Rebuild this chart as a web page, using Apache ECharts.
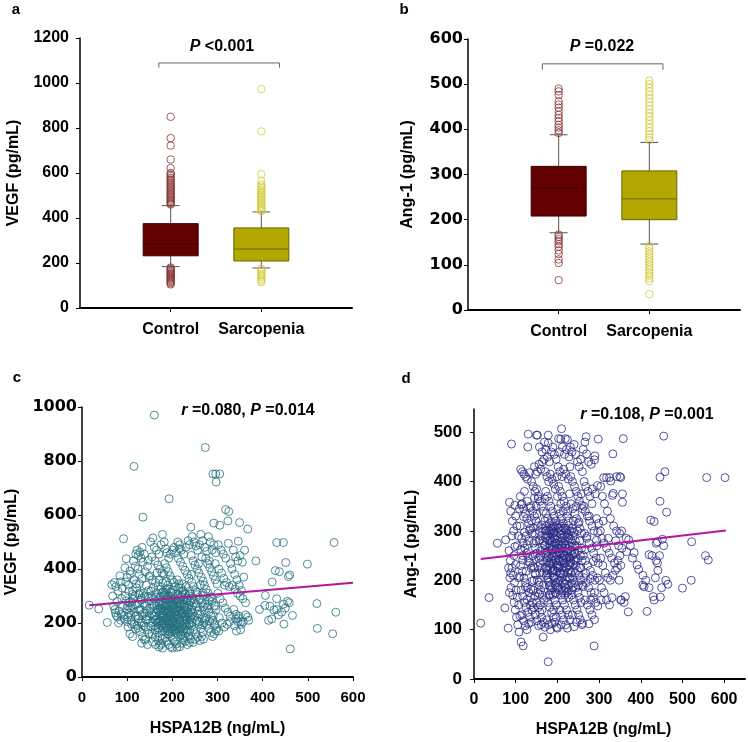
<!DOCTYPE html>
<html>
<head>
    <meta charset="utf-8"/>
    <title>VEGF / Ang-1 - Control vs Sarcopenia, HSPA12B</title>
    <script src="https://cdn.jsdelivr.net/npm/echarts@6/dist/echarts.min.js"></script>
    <style>
        html, body { margin: 0; padding: 0; background: #fff; }
        #main { width: 748px; height: 742px; }
    </style>
</head>
<body>
<div id="main"></div>
<script>
    // ---------- data ----------
    var groupNames = ['Control', 'Sarcopenia'];

    // boxplot: [group position, lower whisker, Q1, median, Q3, upper whisker]
    var vegfBox = [[1, 184, 232, 284, 375, 455], [2, 178, 209, 262, 356, 427]];
    var angBox = [[1, 171, 208, 270, 318, 388], [2, 146, 200, 246, 308, 371]];

    // outliers (pg/mL)
    var vegfOutControl = [850, 755, 722, 660, 622, 600, 594, 586, 578, 571, 565, 558, 551, 545, 538, 532, 526, 519,
        512, 506, 500, 494, 488, 482, 476, 470, 465, 460,
        180, 175, 170, 165, 160, 155, 150, 145, 140, 135, 130, 125, 120, 115, 110, 105];
    var vegfOutSarc = [973, 785, 595, 565, 548, 540, 532, 525, 518, 511, 504, 497, 490, 483, 476, 469, 462, 455,
        448, 441, 434, 430, 175, 168, 160, 152, 145, 138, 130, 122, 115];
    var angOutControl = [490, 484, 476, 462, 455, 448, 440, 432, 425, 418, 410, 404, 398, 392,
        167, 162, 157, 152, 146, 140, 132, 124, 112, 104, 66];
    var angOutSarc = [508, 500, 492, 484, 476, 468, 460, 452, 444, 436, 428, 420, 412, 404, 396, 388, 382, 376,
        142, 136, 130, 124, 118, 112, 106, 100, 94, 88, 82, 76, 70, 64, 35];

    // HSPA12B (ng/mL) vs VEGF (pg/mL)
    var hspaVegf = [
        [16,266],[37,252],[56,202],
        [72,350],[75,335],[68,300],[80,318],[85,352],[78,280],[70,262],[82,245],[76,228],[79,222],[74,238],[88,290],
        [86,210],[90,265],[84,375],[73,250],[89,330],[81,200],[87,232],[66,342],
        [92,512],[95,405],[98,438],[100,370],[103,340],[96,300],[105,275],[99,250],[108,230],[94,215],[110,195],
        [102,185],[112,320],[115,360],[106,392],[118,410],[113,288],[101,262],[116,240],[109,210],[119,178],[97,352],
        [104,318],[111,262],[117,300],[120,345],[107,380],[114,430],[93,228],[100,205],[118,225],[106,160],[112,150],
        [115,780],[119,455],
        [122,470],[125,450],[128,462],[131,440],[135,425],[138,455],[124,400],[127,380],[133,365],[140,390],[145,410],
        [148,372],[121,330],[126,305],[130,285],[136,310],[142,340],[147,320],[123,270],[129,250],[134,232],[139,265],
        [144,245],[149,280],[125,215],[131,200],[137,190],[143,210],[146,175],[128,168],[134,150],[141,140],[148,160],
        [132,125],[138,138],[145,120],[135,592],[127,345],[139,300],[143,225],[122,190],[150,255],[147,432],[133,480],
        [141,185],
        [152,500],[157,515],[160,480],[165,470],[170,455],[175,490],[178,528],[155,445],[162,430],[168,415],[173,400],
        [177,385],[151,375],[156,360],[163,350],[169,338],[174,325],[179,312],[153,300],[158,290],[164,280],[171,268],
        [176,255],[180,245],[154,235],[159,225],[166,215],[172,205],[177,195],[152,188],[161,175],[167,165],[173,150],
        [178,140],[156,130],[163,120],[170,112],[176,125],[158,330],[165,310],[172,295],[160,265],[168,250],[175,235],
        [157,205],[163,190],[170,182],[178,170],[155,160],[162,148],[169,135],[174,118],[160,970],[166,385],[171,360],
        [179,348],[153,318],[158,270],[164,240],[176,280],[180,220],[162,210],[168,198],[175,208],[178,107],
        [182,500],[185,475],[188,460],[192,440],[196,455],[200,470],[204,480],[208,460],[183,420],[187,405],[191,390],
        [195,375],[199,360],[203,350],[207,335],[181,380],[186,355],[190,340],[194,325],[198,312],[202,300],[206,290],
        [210,278],[184,305],[188,290],[193,275],[197,262],[201,250],[205,240],[209,230],[183,265],[187,252],[191,240],
        [196,228],[200,218],[204,208],[208,198],[182,230],[186,215],[190,205],[194,195],[198,185],[203,175],[207,165],
        [185,182],[189,170],[193,160],[197,150],[201,140],[205,130],[209,122],[184,145],[188,132],[192,120],[196,112],
        [200,108],[193,660],[186,322],[190,300],[195,285],[199,270],[204,258],[208,245],[183,245],[188,235],[192,225],
        [197,210],[201,200],[206,188],[209,178],[181,200],[186,190],[191,178],[195,168],[210,110],
        [212,500],[216,490],[220,470],[225,455],[230,480],[235,505],[238,490],[213,440],[218,425],[223,410],[228,395],
        [233,380],[237,365],[211,360],[215,345],[219,330],[224,318],[229,305],[234,292],[239,280],[212,300],[217,285],
        [221,270],[226,258],[231,245],[236,232],[240,220],[214,260],[218,248],[223,235],[227,222],[232,210],[237,198],
        [213,215],[217,202],[222,190],[226,178],[231,165],[236,152],[240,140],[215,170],[219,158],[224,145],[228,132],
        [233,120],[238,128],[216,112],[220,125],[225,138],[229,152],[214,330],[222,345],[230,335],[238,318],[216,232],
        [224,210],[232,188],[239,172],[211,185],[218,178],[227,268],[235,255],[213,278],[221,298],[216,475],
        [241,555],[244,520],[248,500],[252,485],[256,470],[260,490],[263,528],[267,505],[242,450],[246,430],[250,415],
        [255,400],[259,385],[264,370],[268,355],[243,350],[247,335],[251,320],[256,305],[260,290],[265,275],[269,260],
        [244,290],[248,275],[253,260],[257,245],[262,230],[266,215],[270,200],[245,240],[249,225],[254,210],[258,195],
        [263,180],[267,165],[243,190],[247,175],[252,160],[256,148],[261,135],[265,150],[269,140],[246,128],[250,140],
        [255,315],[262,340],[268,310],[242,380],[258,420],[265,445],
        [273,850],[272,480],[276,465],[280,520],[284,500],[288,470],[292,490],[296,460],[274,440],[278,420],[283,405],
        [287,390],[291,375],[295,360],[299,345],[271,340],[275,325],[279,310],[284,295],[288,280],[293,265],[297,250],
        [273,270],[277,255],[281,240],[286,225],[290,210],[294,195],[298,180],[272,210],[276,195],[281,180],[285,165],
        [289,150],[293,160],[297,172],[292,570],[290,752],[296,752],[297,722],[282,430],[295,420],
        [305,752],[305,562],[318,620],[325,613],[323,578],[302,490],[308,470],[313,455],[318,440],[324,495],[329,420],
        [303,400],[309,385],[314,365],[320,350],[326,335],[301,310],[306,290],[312,275],[317,255],[323,240],[328,225],
        [304,220],[310,200],[315,185],[321,195],[327,205],[303,170],[316,340],
        [349,572],[367,548],[346,503],[335,470],[340,445],[345,430],[350,450],[355,425],[360,470],[332,400],[338,380],
        [343,360],[348,340],[353,320],[358,370],[333,340],[339,325],[344,310],[350,300],[356,290],[362,275],[336,250],
        [341,232],[346,218],[351,205],[357,205],[351,175],[342,170],[367,222],[369,210],[340,215],[345,205],[348,225],
        [353,195],[338,190],[362,230],
        [385,430],[393,250],[406,302],[413,210],[416,262],[421,352],[428,394],[437,390],[431,498],[446,498],[431,290],
        [431,250],[442,240],[446,270],[451,424],[455,280],[459,275],[457,372],[460,378],[447,196],[461,104],[466,228],
        [499,418],[520,272],[521,180],[555,160],[558,498],[562,240],[420,215],[435,230],[450,255],[425,248],[405,265]
    ];
    // dense centre of the VEGF cloud
    var hspaVegfCore = [
        [187,268],[203,231],[219,297],[176,189],[231,214],[194,246],[208,283],[162,227],[245,262],[183,312],[215,176],
        [199,204],[227,249],[171,276],[238,193],[191,158],[222,316],[206,172],[180,236],[213,259],[196,293],[233,281],
        [168,204],[242,227],[188,181],[201,322],[225,167],[174,252],[217,212],[185,287],[209,243],[229,198],[193,219],
        [166,263],[236,301],[204,264],[179,208],[221,232],[197,179],[243,248],[184,263],[211,197],[228,309],[172,228],
        [198,251],[234,174],[189,326],[216,269],[205,186],[181,301],[224,285],[192,237],[239,211],[169,181],[214,244],
        [200,289],[187,221],[226,259],[178,266],[207,216],[235,237],[194,201],[220,183],[185,247],[212,308],[164,296],
        [241,281],[199,169],[230,222],[177,313],[203,206],[218,273],[190,284],[232,259],[173,243],[209,162],[195,231],
        [226,204],[182,196],[214,291],[244,203],[167,248],[201,272],[237,266],[186,217],[223,240],[208,226],[175,297],
        [197,314],[219,155],[231,290],[188,205],[212,231],[163,212],[240,307],[180,181],[205,250],[227,226],[192,266],
        [216,195],
        [118,268],[132,292],[104,237],[141,214],[126,248],[112,306],[137,273],[98,282],[146,297],[121,228],[108,255],
        [134,201],[143,263],[115,195],[128,311],[101,222],[139,236],[124,181],[149,226],[110,277],
        [256,233],[271,248],[283,207],[262,286],[278,263],[291,228],[266,193],[287,297],[253,272],[274,218],[296,262],
        [259,205],[281,284],[268,302],[293,190]
    ];

    // HSPA12B (ng/mL) vs Ang-1 (pg/mL)
    var hspaAng = [
        [90,476],[82,103],[74,144],[76,282],[56,275],[36,165],[16,113],
        [85,358],[88,340],[92,320],[95,300],[98,352],[100,330],[103,310],[106,290],[84,260],[87,240],[91,225],[94,210],
        [97,195],[101,180],[104,165],[107,150],[83,225],[86,205],[89,185],[93,170],[96,155],[99,140],[102,125],[105,110],
        [108,95],[110,128],[109,345],[104,270],[96,250],[91,290],[88,215],[100,232],[107,205],[85,175],[98,268],
        [113,75],[118,67],[129,470],[130,496],[112,425],[116,420],[120,415],[124,410],[128,405],[133,418],[138,400],
        [111,370],[115,355],[119,345],[123,335],[127,325],[131,315],[135,305],[139,295],[114,285],[118,275],[122,265],
        [126,255],[130,245],[134,235],[137,225],[112,230],[116,218],[120,205],[124,195],[128,185],[132,175],[136,165],
        [140,155],[113,180],[117,168],[121,155],[125,145],[129,135],[133,125],[137,115],[115,130],[119,118],[123,108],
        [127,100],[131,112],[135,150],[139,140],[111,310],[125,290],[132,280],[121,380],[128,360],[136,350],[117,250],
        [150,494],[152,494],[145,430],[148,415],[152,420],[156,435],[160,425],[164,440],[168,445],[142,390],[146,380],
        [150,385],[154,370],[158,360],[162,350],[166,340],[170,365],[141,340],[145,330],[149,320],[153,310],[157,300],
        [161,290],[165,280],[169,270],[143,275],[147,265],[151,255],[155,245],[159,235],[163,225],[167,215],[144,225],
        [148,212],[152,200],[156,190],[160,180],[164,170],[168,160],[142,180],[146,168],[150,155],[154,145],[158,135],
        [162,125],[166,115],[170,105],[147,130],[151,118],[155,108],[159,150],[163,140],[143,145],[166,85],[161,110],
        [157,470],[163,460],[169,480],[149,350],[156,280],[164,305],[167,190],[153,175],[146,295],[141,250],[158,215],
        [165,240],[160,260],[170,320],[144,200],
        [178,35],[178,494],[178,478],[172,465],[176,450],[181,440],[185,460],[189,470],[193,455],[197,445],[171,420],
        [175,410],[179,400],[183,415],[187,405],[191,395],[195,385],[199,410],[172,380],[176,370],[180,360],[184,350],
        [188,340],[192,330],[196,320],[200,370],[173,335],[177,325],[181,315],[185,305],[189,295],[193,285],[197,275],
        [171,300],[175,290],[179,280],[183,270],[187,260],[191,250],[195,240],[199,230],[172,255],[176,245],[180,235],
        [184,225],[188,215],[192,205],[196,195],[200,185],[173,210],[177,200],[181,190],[185,180],[189,170],[193,160],
        [197,150],[174,165],[178,155],[182,145],[186,135],[190,125],[194,115],[198,105],[175,120],[179,110],[183,100],
        [187,112],[191,140],[195,175],[199,265],[182,300],[190,310],[198,290],[186,240],[194,220],[176,220],[180,170],
        [188,185],[196,255],[174,310],[184,285],[192,270],[200,103],[197,125],
        [210,507],[203,487],[208,486],[219,487],[224,485],[205,460],[212,470],[217,455],[222,465],[228,450],[202,430],
        [206,420],[211,410],[215,425],[220,415],[226,405],[230,430],[203,390],[207,380],[212,370],[216,360],[221,350],
        [225,340],[229,375],[201,345],[205,335],[210,325],[214,315],[219,305],[223,295],[228,285],[202,305],[206,295],
        [211,285],[215,275],[220,265],[224,255],[229,245],[203,265],[207,255],[212,245],[216,235],[221,225],[225,215],
        [230,205],[201,225],[205,215],[210,205],[214,195],[219,185],[223,175],[227,165],[204,180],[208,170],[213,160],
        [217,150],[222,140],[226,130],[230,120],[206,140],[211,130],[215,120],[220,110],[224,103],[209,110],[218,170],
        [227,190],[204,240],[213,225],[222,245],[228,270],[209,300],[217,290],[226,320],[205,315],[214,340],[223,330],
        [208,355],[202,200],[211,270],[219,280],[226,230],[229,300],[215,250],[220,200],
        [231,470],[235,460],[240,475],[244,455],[248,440],[252,430],[256,445],[260,420],[232,410],[236,400],[241,390],
        [245,380],[249,370],[253,360],[257,375],[233,355],[237,345],[242,335],[246,325],[250,315],[254,305],[258,295],
        [234,300],[238,290],[243,280],[247,270],[251,260],[255,250],[259,240],[231,260],[236,250],[240,240],[244,230],
        [248,220],[252,210],[256,200],[260,190],[233,215],[237,205],[241,195],[245,185],[249,175],[253,165],[257,155],
        [234,170],[239,160],[243,150],[247,140],[251,130],[255,120],[259,110],[240,106],[236,130],[246,115],[250,190],
        [258,265],[242,255],[238,320],[254,280],[245,350],[235,180],[253,225],[232,235],[248,300],[260,345],
        [269,491],[298,486],[270,456],[290,452],[289,444],[262,465],[266,480],[275,440],[281,435],[264,400],[268,390],
        [273,380],[278,370],[284,385],[291,375],[296,392],[263,350],[267,340],[272,330],[277,320],[283,310],[288,300],
        [294,325],[299,315],[265,295],[270,285],[276,275],[282,265],[287,255],[293,245],[298,235],[262,250],[267,240],
        [273,230],[279,220],[285,210],[290,200],[296,205],[264,205],[269,195],[275,185],[281,175],[286,165],[292,155],
        [297,148],[266,160],[272,150],[278,140],[283,130],[289,120],[276,112],[260,113],[288,67],[280,160],[295,270],
        [333,456],[358,487],[334,376],[332,372],[342,410],[350,410],[352,408],[325,408],[311,408],[318,408],[328,401],
        [356,358],[356,375],[304,390],[308,370],[313,355],[320,340],[327,325],[335,310],[342,300],[349,295],[354,300],
        [303,300],[307,285],[312,275],[318,265],[324,255],[330,245],[337,235],[344,225],[350,250],[355,265],[304,245],
        [309,230],[315,215],[321,205],[327,200],[333,210],[339,220],[345,240],[352,230],[301,200],[306,185],[312,175],
        [318,160],[325,150],[331,165],[348,200],[353,160],[360,155],[340,280],[322,285],[310,320],[347,270],[305,160],
        [363,167],[352,160],[370,136],[365,285],[371,282],[384,256],[391,231],[395,222],[405,210],[408,187],[405,190],
        [415,137],[420,252],[427,250],[424,322],[432,319],[430,167],[432,160],[437,240],[440,235],[441,220],[437,275],
        [440,278],[447,166],[446,360],[446,409],[450,185],[452,283],[455,492],[458,420],[460,200],[462,338],[465,192],
        [500,184],[521,200],[522,278],[555,250],[562,241],[558,408],[602,408],[366,258],[375,270],[412,200],[420,185],
        [435,205],[445,250],[455,270],[380,245]
    ];
    // dense centre of the Ang-1 cloud
    var hspaAngCore = [
        [186,262],[201,231],[214,288],[177,205],[229,247],[193,296],[208,214],[170,271],[222,183],[185,319],[197,242],
        [236,268],[181,188],[215,305],[203,257],[190,222],[227,293],[174,239],[211,178],[243,215],[195,276],[218,236],
        [183,294],[206,199],[232,283],[172,226],[199,311],[224,207],[188,249],[212,266],[179,302],[238,232],[202,186],
        [220,259],[191,207],[175,258],[209,292],[228,221],[184,233],[240,297],[196,173],[216,249],[171,286],[205,227],
        [234,194],[187,278],[222,302],[199,218],[213,241],[180,196],[226,264],[193,309],[207,271],[241,253],[176,214],
        [218,192],[189,287],[231,238],[200,250],[173,301],[214,214],[235,276],[183,171],[205,306],[221,226],[196,262],
        [178,248],[229,203],[191,234],[210,279],[244,241],[186,305],[219,271],[201,196],[174,223],[233,258],[194,285],
        [215,180],[227,311],[182,280],[207,238],[198,204],[238,186],[171,262],[224,289],[189,219],[212,254],[236,305],
        [177,290],[203,273],[230,231],[185,244],[217,218],[195,190],[242,270],[208,309],[180,267],[221,245],[192,298],
        [226,178],
        [128,272],[142,306],[117,241],[153,228],[134,347],[121,297],[147,253],[139,198],[158,282],[125,218],[112,262],
        [151,334],[136,182],[162,312],[119,329],[145,367],[131,238],[156,196],[114,353],[149,279],[127,161],[160,248],
        [138,321],[123,187],[154,365],[110,208],[141,229],[157,172],[133,301],[146,214],
        [252,318],[266,262],[279,203],[258,352],[271,289],[286,238],[262,187],[294,281],[249,244],[276,330],[289,175],
        [256,225],[283,355],[268,214],[297,297]
    ];

    // linear fits
    var fitVegf = [[16, 266], [600, 349]];
    var fitAng = [[16, 243], [604, 301]];

    // significance brackets [group position, value]
    var bracketVegf = [[0.87, 1068], [0.87, 1089], [2.2, 1089], [2.2, 1068]];
    var bracketAng = [[0.82, 532], [0.82, 545], [2.15, 545], [2.15, 532]];

    var panelLetters = ['a', 'b', 'c', 'd'];
    var statTexts = ['{i|P} <0.001', '{i|P} =0.022', '{i|r} =0.080, {i|P} =0.014', '{i|r} =0.108, {i|P} =0.001'];

    // ---------- styles ----------
    var FONT = '"Liberation Sans", Arial, sans-serif';
    var WIDE = '"DejaVu Sans", sans-serif';
    var boxFill = ['#650000', '#b3a800'];
    var boxEdge = ['#3a0000', '#6a6400'];
    var outColor = ['#8a3434', '#d2ca3c'];

    var chart = echarts.init(document.getElementById('main'));

    function renderBox(params, api) {
        var x = api.value(0);
        var lo = api.coord([x, api.value(1)]);
        var q1 = api.coord([x, api.value(2)]);
        var md = api.coord([x, api.value(3)]);
        var q3 = api.coord([x, api.value(4)]);
        var hi = api.coord([x, api.value(5)]);
        var half = 27.5, cap = 9;
        var i = params.dataIndex;
        var whisker = {stroke: '#555', lineWidth: 1};
        return {
            type: 'group',
            children: [
                {type: 'line', shape: {x1: lo[0], y1: lo[1], x2: hi[0], y2: hi[1]}, style: whisker},
                {type: 'line', shape: {x1: lo[0] - cap, y1: lo[1], x2: lo[0] + cap, y2: lo[1]}, style: whisker},
                {type: 'line', shape: {x1: hi[0] - cap, y1: hi[1], x2: hi[0] + cap, y2: hi[1]}, style: whisker},
                {type: 'rect', shape: {x: q3[0] - half, y: q3[1], width: half * 2, height: q1[1] - q3[1]},
                    style: {fill: boxFill[i], stroke: boxEdge[i], lineWidth: 1}},
                {type: 'line', shape: {x1: md[0] - half, y1: md[1], x2: md[0] + half, y2: md[1]},
                    style: {stroke: boxEdge[i], lineWidth: 1}}
            ]
        };
    }

    var plainNumber = function (v) { return String(v); };

    function valueAxis(grid, max, interval, opt) {
        var ax = {
            type: 'value', gridIndex: grid, min: 0, max: max, interval: interval,
            splitLine: {show: false},
            axisLine: {show: true, onZero: false, lineStyle: {color: '#000', width: opt.lineWidth || 2}},
            axisTick: {show: true, length: 4, lineStyle: {color: '#000', width: 1}},
            axisLabel: {color: '#000', fontWeight: 'bold', fontSize: opt.fontSize || 16,
                fontFamily: opt.font || FONT, margin: opt.margin, formatter: opt.formatter || plainNumber},
            name: opt.name || '', nameLocation: 'middle', nameGap: opt.nameGap,
            nameTextStyle: {color: '#000', fontWeight: 'bold', fontSize: 16, fontFamily: FONT,
                padding: opt.namePadding || 0}
        };
        if (opt.custom) {
            ax.axisTick.customValues = opt.custom;
            ax.axisLabel.customValues = opt.custom;
        }
        return ax;
    }

    var groupLabel = function (v) { return groupNames[Math.round(v) - 1] || ''; };

    function scatter(xi, data, color, size) {
        return {
            type: 'scatter', xAxisIndex: xi, yAxisIndex: xi, data: data,
            symbol: 'circle', symbolSize: size,
            itemStyle: {color: 'rgba(0,0,0,0)', borderColor: color, borderWidth: 1},
            silent: true
        };
    }
    function polyline(xi, data, color, width) {
        return {
            type: 'line', xAxisIndex: xi, yAxisIndex: xi, data: data, symbol: 'none',
            lineStyle: {color: color, width: width}, silent: true, z: 5
        };
    }
    var atOne = function (v) { return [1, v]; };
    var atTwo = function (v) { return [2, v]; };

    var textPos = [[16, 10], [404, 10], [17, 378], [406, 379]];
    var statPos = [[222, 47], [602, 47], [248, 411], [647, 415]];
    var graphics = [];
    for (var k = 0; k < 4; k++) {
        graphics.push({type: 'text', x: textPos[k][0], y: textPos[k][1],
            style: {text: panelLetters[k], font: 'bold 15px ' + FONT, fill: '#000', align: 'center', verticalAlign: 'middle'}});
        graphics.push({type: 'text', x: statPos[k][0], y: statPos[k][1],
            style: {text: statTexts[k], fontSize: 16, fontWeight: 'bold', fontFamily: FONT, fill: '#000',
                align: 'center', verticalAlign: 'middle',
                rich: {i: {fontStyle: 'italic', fontWeight: 'bold', fontSize: 16, fontFamily: FONT, fill: '#000'}}}});
    }

    var option = {
        animation: false,
        backgroundColor: '#fff',
        grid: [
            {left: 80, top: 38, width: 272, height: 270},
            {left: 468, top: 39, width: 272, height: 271},
            {left: 82, top: 407, width: 271, height: 270},
            {left: 474, top: 409, width: 271, height: 270}
        ],
        xAxis: [
            valueAxis(0, 3, 1, {margin: 14, custom: [1, 2], formatter: groupLabel}),
            valueAxis(1, 3, 1, {margin: 14, custom: [1, 2], formatter: groupLabel}),
            valueAxis(2, 600, 100, {margin: 13, fontSize: 15, name: 'HSPA12B (ng/mL)', nameGap: 44}),
            valueAxis(3, 650, 100, {margin: 13, custom: [0, 100, 200, 300, 400, 500, 600],
                name: 'HSPA12B (ng/mL)', nameGap: 43, namePadding: [0, 12, 0, 0]})
        ],
        yAxis: [
            valueAxis(0, 1200, 200, {margin: 11, lineWidth: 1.5, name: 'VEGF (pg/mL)', nameGap: 58}),
            valueAxis(1, 600, 100, {margin: 5, lineWidth: 1.5, font: WIDE, fontSize: 16, name: 'Ang-1 (pg/mL)', nameGap: 52}),
            valueAxis(2, 1000, 200, {margin: 5, lineWidth: 1.5, font: WIDE, fontSize: 16, name: 'VEGF (pg/mL)', nameGap: 62}),
            valueAxis(3, 547, 100, {margin: 12, lineWidth: 1.5, fontSize: 17, custom: [0, 100, 200, 300, 400, 500],
                name: 'Ang-1 (pg/mL)', nameGap: 54})
        ],
        graphic: graphics,
        series: [
            {type: 'custom', xAxisIndex: 0, yAxisIndex: 0, renderItem: renderBox, data: vegfBox,
                encode: {x: 0, y: [1, 2, 3, 4, 5]}, silent: true},
            scatter(0, vegfOutControl.map(atOne), outColor[0], 7.5),
            scatter(0, vegfOutSarc.map(atTwo), outColor[1], 7.5),
            polyline(0, bracketVegf, '#666', 1),

            {type: 'custom', xAxisIndex: 1, yAxisIndex: 1, renderItem: renderBox, data: angBox,
                encode: {x: 0, y: [1, 2, 3, 4, 5]}, silent: true},
            scatter(1, angOutControl.map(atOne), outColor[0], 7.5),
            scatter(1, angOutSarc.map(atTwo), outColor[1], 7.5),
            polyline(1, bracketAng, '#666', 1),

            scatter(2, hspaVegf.concat(hspaVegfCore), '#24707f', 8),
            polyline(2, fitVegf, '#b3179f', 2),

            scatter(3, hspaAng.concat(hspaAngCore), '#2b2b86', 8),
            polyline(3, fitAng, '#b3179f', 2)
        ]
    };
    chart.setOption(option);
</script>
</body>
</html>
